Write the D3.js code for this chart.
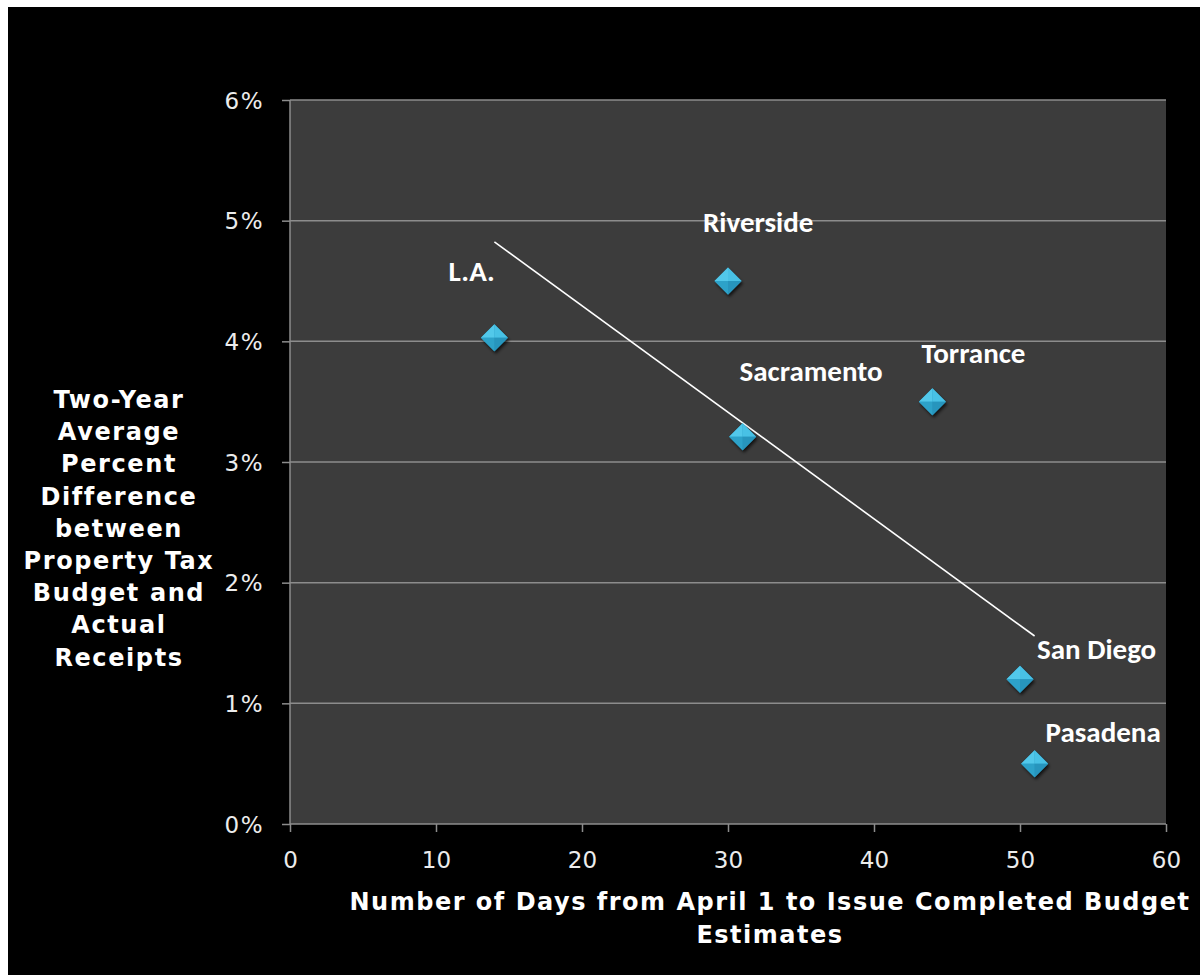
<!DOCTYPE html>
<html>
<head>
<meta charset="utf-8">
<script src="https://cdn.jsdelivr.net/npm/d3@7"></script>
<style>
  html, body { margin: 0; padding: 0; background: #ffffff; }
  svg { display: block; }
  .verd { font-family: "DejaVu Sans", sans-serif; }
  .lbl { font-family: "Carlito", "Open Sans", sans-serif; }
</style>
</head>
<body>
<svg id="chart" width="1204" height="975"></svg>
<script>
// ---- data ----
const cities = ["L.A.", "Riverside", "Sacramento", "Torrance", "San Diego", "Pasadena"];
const days = [14, 30, 31, 44, 50, 51];
const pctDiff = [4.03, 4.5, 3.21, 3.5, 1.2, 0.5];
const xTicks = [0, 10, 20, 30, 40, 50, 60];
const yTicks = [0, 1, 2, 3, 4, 5, 6];
const yTitleLines = ["Two-Year", "Average", "Percent", "Difference", "between", "Property Tax", "Budget and", "Actual", "Receipts"];
const xTitleLines = ["Number of Days from April 1 to Issue Completed Budget", "Estimates"];
// label placement (pixel offsets from the marker: left edge, baseline)
const labelOffsets = [[-46, -57], [-25, -49], [-3, -56], [-11, -39], [17, -20], [11, -22]];

const svg = d3.select("#chart");
const W = 1204, H = 975;
const plot = { left: 290, right: 1166, top: 100, bottom: 824 };

// background
svg.append("rect").attr("width", W).attr("height", H).attr("fill", "#ffffff");
svg.append("rect").attr("x", 8).attr("y", 7).attr("width", 1192).attr("height", H - 7).attr("fill", "#000000");

const x = d3.scaleLinear().domain([0, 60]).range([plot.left, plot.right]);
const y = d3.scaleLinear().domain([0, 6]).range([plot.bottom, plot.top]);

// plot area
svg.append("rect")
  .attr("x", plot.left).attr("y", plot.top)
  .attr("width", plot.right - plot.left).attr("height", plot.bottom - plot.top)
  .attr("fill", "#3c3c3c");

// gridlines
svg.append("g").selectAll("line").data(yTicks.filter(d => d > 0)).join("line")
  .attr("x1", plot.left).attr("x2", plot.right)
  .attr("y1", d => y(d)).attr("y2", d => y(d))
  .attr("stroke", "#8c8c8c").attr("stroke-width", 1.5);

// y axis
const yAxis = d3.axisLeft(y).tickValues(yTicks).tickFormat(d => d + "%").tickSize(8).tickPadding(18);
const gy = svg.append("g").attr("transform", `translate(${plot.left},0)`).call(yAxis);
gy.attr("font-family", null).attr("font-size", null);
gy.select(".domain").attr("stroke", "#8c8c8c").attr("stroke-width", 1.5).attr("d", `M0,${plot.top}V${plot.bottom}`);
gy.selectAll(".tick line").attr("stroke", "#8c8c8c").attr("stroke-width", 1.5);
gy.selectAll(".tick text")
  .attr("class", "verd")
  .attr("fill", "#ececec")
  .attr("font-size", 23).attr("letter-spacing", 1.5).attr("dy", "0.36em");

// x axis
const xAxis = d3.axisBottom(x).tickValues(xTicks).tickSize(8).tickPadding(20);
const gx = svg.append("g").attr("transform", `translate(0,${plot.bottom})`).call(xAxis);
gx.attr("font-family", null).attr("font-size", null);
gx.select(".domain").attr("stroke", "#8c8c8c").attr("stroke-width", 1.5).attr("d", `M${plot.left},0H${plot.right}`);
gx.selectAll(".tick line").attr("stroke", "#8c8c8c").attr("stroke-width", 1.5);
gx.selectAll(".tick text")
  .attr("class", "verd")
  .attr("fill", "#ececec")
  .attr("font-size", 23);

// trendline (least squares fit of the data)
const mx = d3.mean(days), my = d3.mean(pctDiff);
const sxy = d3.sum(days.map((d, i) => (d - mx) * (pctDiff[i] - my)));
const sxx = d3.sum(days.map(d => (d - mx) * (d - mx)));
const slope = sxy / sxx, intercept = my - slope * mx;
const [xmin, xmax] = d3.extent(days);
svg.append("line")
  .attr("x1", x(xmin)).attr("y1", y(intercept + slope * xmin))
  .attr("x2", x(xmax)).attr("y2", y(intercept + slope * xmax))
  .attr("stroke", "#ffffff").attr("stroke-width", 1.6);

// marker shadow filter
const defs = svg.append("defs");
const f = defs.append("filter").attr("id", "shadow").attr("x", "-50%").attr("y", "-50%").attr("width", "200%").attr("height", "200%");
f.append("feDropShadow").attr("dx", 1.5).attr("dy", 2.5).attr("stdDeviation", 1.8).attr("flood-color", "#000").attr("flood-opacity", 0.7);

// markers
const r = 13.5;
const pts = cities.map((c, i) => ({ city: c, px: x(days[i]), py: y(pctDiff[i]), off: labelOffsets[i] }));
const mk = svg.append("g").selectAll("g").data(pts).join("g")
  .attr("transform", d => `translate(${d.px},${d.py})`);
mk.append("path").attr("d", `M0,${-r}L${r},0L0,${r}L${-r},0Z`).attr("fill", "#2a9cc4").attr("filter", "url(#shadow)");
const facets = [
  [[0, -r], [-r, 0], [0, 0], "#52c8ea"],
  [[0, -r], [r, 0], [0, 0], "#48c1e5"],
  [[-r, 0], [0, r], [0, 0], "#2da2c9"],
  [[r, 0], [0, r], [0, 0], "#2795bd"]
];
facets.forEach(fc => {
  mk.append("path")
    .attr("d", `M${fc[0][0]},${fc[0][1]}L${fc[1][0]},${fc[1][1]}L${fc[2][0]},${fc[2][1]}Z`)
    .attr("fill", fc[3]);
});

// data labels
svg.append("g").selectAll("text").data(pts).join("text")
  .attr("class", "lbl")
  .attr("x", d => d.px + d.off[0]).attr("y", d => d.py + d.off[1])
  .attr("fill", "#ffffff")
  .attr("font-weight", 700).attr("font-size", 29)
  .text(d => d.city);

// y title
svg.append("text")
  .attr("class", "verd")
  .attr("text-anchor", "middle").attr("fill", "#ffffff")
  .attr("font-weight", 700).attr("font-size", 24).attr("letter-spacing", 1.6)
  .selectAll("tspan").data(yTitleLines).join("tspan")
  .attr("x", 119).attr("y", (d, i) => 408 + i * 32.2)
  .text(d => d);

// x title
svg.append("text")
  .attr("class", "verd")
  .attr("text-anchor", "middle").attr("fill", "#ffffff")
  .attr("font-weight", 700).attr("font-size", 24).attr("letter-spacing", 1.5)
  .selectAll("tspan").data(xTitleLines).join("tspan")
  .attr("x", 770).attr("y", (d, i) => 910 + i * 33)
  .text(d => d);
</script>
</body>
</html>
